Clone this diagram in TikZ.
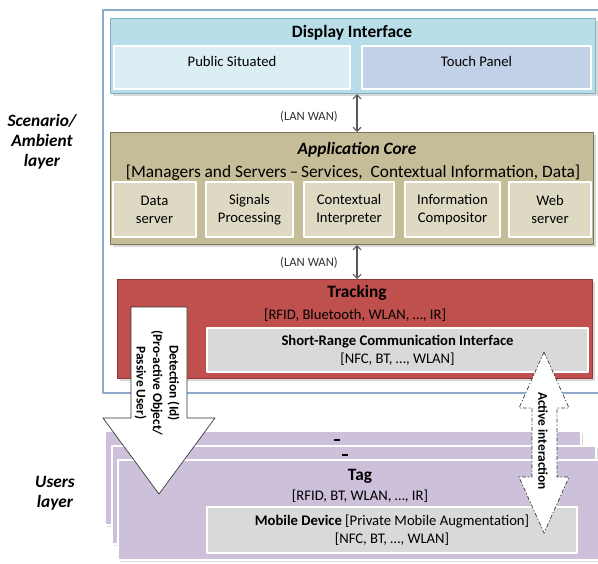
\documentclass[tikz,border=0pt]{standalone}
\usepackage{fontspec}
\setmainfont{Carlito}
\usetikzlibrary{arrows.meta,shadows}
\definecolor{framecol}{HTML}{8EA9CC}
\definecolor{dispfill}{HTML}{B7DEE8}
\definecolor{dispedge}{HTML}{7FB3C0}
\definecolor{pubfill}{HTML}{DBEEF3}
\definecolor{touchfill}{HTML}{C3D1E8}
\definecolor{corefill}{HTML}{C4BD97}
\definecolor{coreedge}{HTML}{7A7355}
\definecolor{cellfill}{HTML}{DDD9C3}
\definecolor{trackfill}{HTML}{C0504D}
\definecolor{trackedge}{HTML}{943634}
\definecolor{greyfill}{HTML}{D9D9D9}
\definecolor{userfill}{HTML}{CCC0DA}
\definecolor{useredge}{HTML}{A897BF}
\tikzset{
  wh/.style 2 args={minimum width=#1*0.75pt,minimum height=#2*0.75pt},
  panel/.style={rectangle,inner sep=0pt,anchor=north west,line width=0.8pt,
    drop shadow={opacity=0.3,shadow xshift=1.5pt,shadow yshift=-1.5pt}},
  cellbox/.style={rectangle,draw=white,line width=1.6pt,inner sep=1pt,align=center,
    font=\fontsize{11}{13.5}\selectfont,
    drop shadow={opacity=0.25,shadow xshift=1pt,shadow yshift=-1pt}},
  boxtitle/.style={font=\fontsize{13}{15}\selectfont\bfseries,inner sep=0pt},
  boxnote/.style={font=\fontsize{11}{13}\selectfont,inner sep=0pt},
  lanlabel/.style={font=\fontsize{9.5}{11}\selectfont,text=black!80,inner sep=0pt},
  lanlink/.style={<->,draw=black!65,line width=0.8pt},
  bigarrow/.style={fill=white,draw=black!80,line width=0.5pt,line join=miter},
  arrowtext/.style={font=\fontsize{10}{12.4}\selectfont\bfseries,align=center,inner sep=0pt},
  sidelabel/.style={font=\fontsize{13}{15}\selectfont\bfseries\itshape,align=center,inner sep=0pt},
}
\begin{document}
\begin{tikzpicture}[x=0.75pt,y=-0.75pt,line join=round,>={Straight Barb[length=3pt,width=6pt]}]
\useasboundingbox (0,0) rectangle (598,563);
% scenario / ambient layer
\draw[framecol,line width=0.8pt] (103,10) rectangle (602,393);
\node[sidelabel] (scen) at (42,142) {Scenario/\\Ambient\\layer};
\node[sidelabel] (users) at (55,493) {Users\\layer};
% display interface
\node[panel,fill=dispfill,draw=dispedge,wh={485}{75}] (disp) at (110,18) {};
\node[boxtitle] (dispT) at (352,33) {Display Interface};
\node[cellbox,fill=pubfill,wh={236}{43},text height=8pt,text depth=9.5pt] (pub) at (232,67.5) {Public Situated};
\node[cellbox,fill=touchfill,wh={229}{43},text height=8pt,text depth=9.5pt] (touch) at (476.5,67.5) {Touch Panel};
% application core
\node[panel,fill=corefill,draw=coreedge,wh={483}{112}] (core) at (110,132) {};
\node[boxtitle,font=\fontsize{13}{15}\selectfont\bfseries\itshape] (coreT) at (357,150) {Application Core};
\node[boxnote,font=\fontsize{13}{15}\selectfont] (coreS) at (353,173) {[Managers and Servers\,–\,Services,\ \ Contextual Information, Data]};
\foreach \n/\x/\w/\t in {data/154.5/83/Data\\server,sig/249.5/87/Signals\\Processing,ctx/349/90/Contextual\\Interpreter,info/452.5/95/Information\\Compositor,web/550/82/Web\\server}
  \node[cellbox,fill=cellfill,wh={\w}{55}] (\n) at (\x,209.5) {\t};
% tracking
\node[panel,fill=trackfill,draw=trackedge,wh={475}{99}] (track) at (117,279) {};
\node[boxtitle] (trackT) at (357,293) {Tracking};
\node[boxnote] (trackS) at (355,315) {[RFID, Bluetooth, WLAN, …, IR]};
\node[cellbox,fill=greyfill,wh={381}{44}] (sri) at (397.5,350) {\textbf{Short-Range Communication Interface}\\{}[NFC, BT, …, WLAN]};
% links
\coordinate (lan) at (357,0);
\draw[lanlink] (disp.south -| lan) -- (core.north -| lan);
\draw[lanlink] (core.south -| lan) -- (track.north -| lan);
\node[lanlabel] (lanA) at (309,117) {(LAN WAN)};
\node[lanlabel] (lanB) at (309,263) {(LAN WAN)};
% users layer
\node[panel,fill=userfill,draw=white,line width=1.5pt,wh={476}{94}] (tagC) at (104,430) {};
\draw[line width=1.3pt] (334,440) -- (340,440);
\node[panel,fill=userfill,draw=white,line width=1.5pt,wh={484}{98}] (tagB) at (111,445) {};
\draw[line width=1.3pt] (342,455) -- (348,455);
\node[panel,fill=userfill,draw=white,line width=1.5pt,wh={485}{100}] (tagA) at (117,459) {};
\node[boxtitle] (tagT) at (360,476) {Tag};
\node[boxnote] (tagS) at (360,496) {[RFID, BT, WLAN, …, IR]};
\node[cellbox,fill=greyfill,wh={370}{46}] (mob) at (392,530) {\textbf{Mobile Device} [Private Mobile Augmentation]\\{}[NFC, BT, …, WLAN]};
% detection arrow
\draw[bigarrow] (131,307) -- (187,307) -- (187,418) -- (215,418) -- (159,494) -- (103,418) -- (131,418) -- cycle;
\node[arrowtext,rotate=-90] (det) at (157,383) {Detection (Id)\\(Pro-active Object/\\Passive User)};
% active interaction
\draw[bigarrow,dash pattern=on 3pt off 1.5pt on 1pt off 1.5pt] (544,352) -- (569,408) -- (557,408) -- (557,477) -- (569,477) -- (544,533) -- (519,477) -- (532,477) -- (532,408) -- (519,408) -- cycle;
\node[arrowtext,rotate=-90] (act) at (543,441) {Active interaction};
\end{tikzpicture}
\end{document}
